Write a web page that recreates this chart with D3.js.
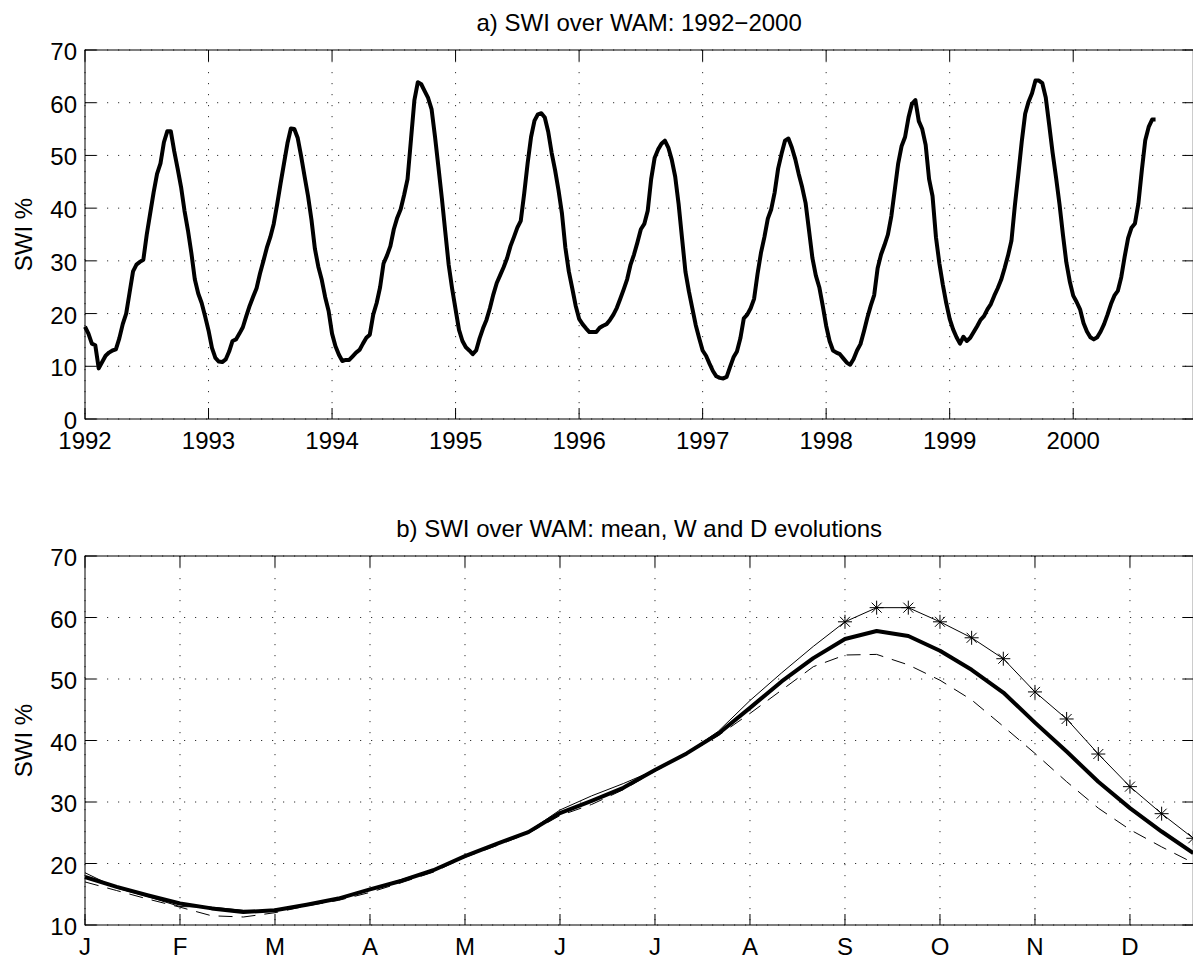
<!DOCTYPE html>
<html>
<head>
<meta charset="utf-8">
<script src="https://cdn.jsdelivr.net/npm/d3@7"></script>
<style>
  body { margin: 0; background: #fff; }
  text { font-family: "Liberation Sans", Arial, Helvetica, sans-serif; fill: #000; }
</style>
</head>
<body>
<svg id="chart" width="1193" height="959"></svg>
<script>
// panel a) : dekadal SWI 1992-2000 (36 dekads per year)
const yearLabels = ["1992", "1993", "1994", "1995", "1996", "1997", "1998", "1999", "2000"];
const yearTickDekads = [1, 37, 73, 109, 145, 181, 217, 253, 289];
const swiTicksA = [0, 10, 20, 30, 40, 50, 60, 70];

const swi1992 = [17.5, 16.2, 14.3, 14.0, 9.6, 10.8, 12.0, 12.6, 13.0, 13.2, 15.3, 18.0, 20.0, 24.0, 28.0, 29.3, 29.8, 30.2,
                 35.0, 39.0, 43.0, 46.5, 48.5, 52.5, 54.6, 54.6, 50.8, 47.5, 44.0, 39.5, 35.8, 31.5, 26.5, 23.8, 22.0, 19.5];
const swi1993 = [16.8, 13.5, 11.6, 10.9, 10.8, 11.3, 12.8, 14.8, 15.1, 16.2, 17.4, 19.5, 21.5, 23.2, 24.8, 27.6, 30.0, 32.5,
                 34.5, 37.0, 40.7, 44.7, 48.5, 52.3, 55.1, 55.0, 53.3, 49.8, 46.0, 42.3, 37.8, 32.3, 28.9, 26.4, 23.1, 20.5];
const swi1994 = [16.2, 13.8, 12.2, 11.0, 11.2, 11.2, 11.9, 12.6, 13.1, 14.3, 15.4, 16.0, 19.8, 22.0, 25.0, 29.5, 31.0, 32.8,
                 36.0, 38.2, 39.8, 42.5, 45.5, 53.0, 60.5, 63.9, 63.5, 62.2, 60.9, 58.8, 53.6, 47.8, 41.9, 35.5, 29.2, 24.7];
const swi1995 = [20.8, 16.9, 14.8, 13.6, 13.0, 12.3, 13.0, 15.3, 17.2, 18.8, 21.0, 23.6, 25.8, 27.3, 28.8, 30.5, 32.8, 34.5,
                 36.3, 37.6, 42.8, 48.5, 53.5, 56.6, 57.8, 58.0, 57.2, 54.5, 50.5, 47.2, 43.4, 39.0, 32.5, 28.0, 24.8, 21.5];
const swi1996 = [19.0, 18.0, 17.2, 16.5, 16.5, 16.5, 17.3, 17.7, 18.0, 18.8, 19.8, 21.1, 22.8, 24.6, 26.5, 29.3, 31.2, 33.5,
                 36.0, 37.0, 39.5, 45.5, 49.5, 51.1, 52.2, 52.8, 51.5, 49.2, 46.0, 40.8, 34.3, 27.9, 24.2, 21.0, 17.8, 15.3];
const swi1997 = [13.0, 12.0, 10.5, 9.1, 8.1, 7.8, 7.7, 8.0, 9.9, 11.7, 12.8, 15.3, 19.1, 19.8, 21.0, 22.8, 27.5, 31.5,
                 34.5, 38.0, 39.8, 43.0, 47.5, 50.3, 52.8, 53.2, 51.5, 49.3, 46.5, 44.0, 41.0, 35.8, 30.5, 27.2, 25.0, 21.5];
const swi1998 = [17.7, 14.8, 13.0, 12.6, 12.3, 11.5, 10.7, 10.3, 11.4, 13.0, 14.2, 16.6, 19.2, 21.5, 23.5, 28.6, 31.2, 33.0,
                 35.0, 38.5, 43.5, 48.5, 51.8, 53.5, 57.2, 59.8, 60.5, 56.5, 55.0, 52.0, 45.5, 42.3, 34.5, 29.5, 25.5, 22.0];
const swi1999 = [19.0, 17.0, 15.5, 14.3, 15.6, 14.8, 15.4, 16.5, 17.6, 18.8, 19.5, 20.8, 21.8, 23.4, 24.8, 26.4, 28.6, 31.0,
                 33.8, 40.5, 46.4, 52.6, 57.9, 60.2, 61.8, 64.2, 64.2, 63.7, 61.0, 55.8, 50.5, 45.8, 40.8, 35.0, 29.7, 26.1];
const swi2000 = [23.4, 22.2, 20.8, 18.2, 16.6, 15.5, 15.1, 15.5, 16.6, 18.0, 19.8, 21.8, 23.4, 24.3, 26.9, 30.8, 34.3, 36.3,
                 37.1, 40.9, 47.2, 52.9, 55.4, 56.8, 56.8];

// panel b) : mean seasonal cycle, wet (W) and dry (D) years, 36 dekads
const monthLabels = ["J", "F", "M", "A", "M", "J", "J", "A", "S", "O", "N", "D"];
const monthTickDekads = [1, 4, 7, 10, 13, 16, 19, 22, 25, 28, 31, 34];
const swiTicksB = [10, 20, 30, 40, 50, 60, 70];

const swiMean = [17.8, 16.2, 14.8, 13.5, 12.7, 12.1, 12.4, 13.3, 14.3, 15.8, 17.2, 18.9, 21.2, 23.2, 25.1, 28.2, 30.2, 32.3,
                 35.2, 37.9, 41.1, 45.3, 49.6, 53.4, 56.5, 57.8, 57.0, 54.6, 51.5, 47.8, 42.9, 38.2, 33.3, 29.0, 25.2, 21.7];
const swiWet  = [18.5, 16.0, 14.6, 13.0, 12.9, 12.4, 12.3, 13.4, 14.3, 15.8, 17.4, 19.0, 21.2, 23.3, 25.2, 28.7, 31.0, 33.0,
                 35.2, 37.9, 41.5, 46.5, 51.0, 55.3, 59.3, 61.6, 61.6, 59.3, 56.7, 53.3, 47.9, 43.5, 37.8, 32.5, 28.1, 24.1];
const swiDry  = [17.0, 15.6, 14.2, 12.9, 11.5, 11.3, 12.0, 13.1, 14.0, 15.3, 16.9, 18.6, 21.0, 22.9, 24.9, 27.8, 29.6, 32.0,
                 35.0, 37.8, 40.8, 44.4, 48.2, 52.0, 53.9, 54.0, 52.3, 49.8, 46.6, 42.3, 37.9, 33.3, 29.0, 25.5, 22.7, 20.1];
const wetStarFrom = 25; // stars on the W curve from September on

const svg = d3.select("#chart");
const left = 85, right = 1193.3, tickLen = 11;

function drawPanel(p) {
  const g = svg.append("g");
  const x = d3.scaleLinear().domain(p.xDomain).range([left, right]);
  const y = d3.scaleLinear().domain(p.yDomain).range([p.bottom, p.top]);

  // dotted grid
  g.selectAll(".hgrid").data(p.yTicks).join("line")
    .attr("x1", left).attr("x2", right)
    .attr("y1", d => y(d)).attr("y2", d => y(d))
    .attr("stroke", "#333").attr("stroke-width", 1).attr("stroke-dasharray", "1.2,9.8");
  g.selectAll(".vgrid").data(p.xTicks).join("line")
    .attr("x1", d => x(d)).attr("x2", d => x(d))
    .attr("y1", p.top).attr("y2", p.bottom)
    .attr("stroke", "#333").attr("stroke-width", 1).attr("stroke-dasharray", "1.2,9.8");

  // data
  p.draw(g, x, y);

  // frame and inward ticks
  g.append("rect").attr("x", left).attr("y", p.top)
    .attr("width", right - left).attr("height", p.bottom - p.top)
    .attr("fill", "none").attr("stroke", "#000").attr("stroke-width", 1);
  p.xTicks.forEach(t => {
    g.append("line").attr("x1", x(t)).attr("x2", x(t)).attr("y1", p.bottom).attr("y2", p.bottom - tickLen).attr("stroke", "#000");
    g.append("line").attr("x1", x(t)).attr("x2", x(t)).attr("y1", p.top).attr("y2", p.top + tickLen).attr("stroke", "#000");
  });
  p.yTicks.forEach(t => {
    g.append("line").attr("x1", left).attr("x2", left + tickLen).attr("y1", y(t)).attr("y2", y(t)).attr("stroke", "#000");
    g.append("line").attr("x1", right).attr("x2", right - tickLen).attr("y1", y(t)).attr("y2", y(t)).attr("stroke", "#000");
  });

  // labels
  g.selectAll(".xl").data(p.xTicks).join("text")
    .attr("x", d => x(d)).attr("y", p.bottom + 30)
    .attr("text-anchor", "middle").attr("font-size", 24)
    .text((d, i) => p.xLabels[i]);
  g.selectAll(".yl").data(p.yTicks).join("text")
    .attr("x", 77).attr("y", d => y(d) + 10)
    .attr("text-anchor", "end").attr("font-size", 24)
    .text(d => d);
  g.append("text")
    .attr("transform", `translate(32,${(p.top + p.bottom) / 2}) rotate(-90)`)
    .attr("text-anchor", "middle").attr("font-size", 24).text("SWI %");
  g.append("text")
    .attr("x", (left + right) / 2).attr("y", p.top - 19)
    .attr("text-anchor", "middle").attr("font-size", 24).text(p.title);
}

const swiAll = [].concat(swi1992, swi1993, swi1994, swi1995, swi1996, swi1997, swi1998, swi1999, swi2000);

drawPanel({
  top: 50, bottom: 419,
  xDomain: [1, 324], yDomain: [0, 70],
  xTicks: yearTickDekads, xLabels: yearLabels, yTicks: swiTicksA,
  title: "a) SWI over WAM: 1992\u22122000",
  draw: (g, x, y) => {
    const line = d3.line().x((d, i) => x(i + 1)).y(d => y(d));
    g.append("path").datum(swiAll).attr("d", line)
      .attr("fill", "none").attr("stroke", "#000").attr("stroke-width", 4)
      .attr("stroke-linejoin", "round");
  }
});

drawPanel({
  top: 556, bottom: 925,
  xDomain: [1, 36], yDomain: [10, 70],
  xTicks: monthTickDekads, xLabels: monthLabels, yTicks: swiTicksB,
  title: "b) SWI over WAM: mean, W and D evolutions",
  draw: (g, x, y) => {
    const line = d3.line().x((d, i) => x(i + 1)).y(d => y(d));
    g.append("path").datum(swiDry).attr("d", line)
      .attr("fill", "none").attr("stroke", "#000").attr("stroke-width", 1)
      .attr("stroke-dasharray", "14,9");
    g.append("path").datum(swiWet).attr("d", line)
      .attr("fill", "none").attr("stroke", "#000").attr("stroke-width", 1);
    g.append("path").datum(swiMean).attr("d", line)
      .attr("fill", "none").attr("stroke", "#000").attr("stroke-width", 4)
      .attr("stroke-linejoin", "round");
    const stars = swiWet.map((v, i) => ({ dek: i + 1, v })).filter(d => d.dek >= wetStarFrom);
    g.selectAll(".star").data(stars).join("path")
      .attr("transform", d => `translate(${x(d.dek)},${y(d.v)})`)
      .attr("d", "M0,-7V7M-7,0H7M-5,-5L5,5M-5,5L5,-5")
      .attr("stroke", "#000").attr("stroke-width", 1).attr("fill", "none");
  }
});
</script>
</body>
</html>
